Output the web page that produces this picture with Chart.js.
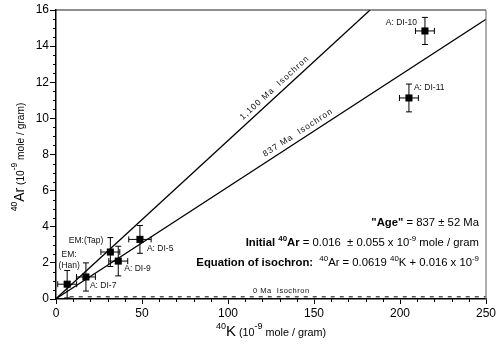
<!DOCTYPE html>
<html>
<head>
<meta charset="utf-8">
<script src="https://cdn.jsdelivr.net/npm/chart.js@4.4.0/dist/chart.umd.min.js"></script>
<style>
  html, body { margin: 0; padding: 0; background: #fff; }
  #wrap { width: 500px; height: 353px; }
</style>
</head>
<body>
<div id="wrap"><canvas id="isochron" width="500" height="353"></canvas></div>
<script>
// sample data (10^-9 mole / gram)
const sampleNames = ['EM:(Han)', 'A: DI-7', 'EM:(Tap)', 'A: DI-9', 'A: DI-5', 'A: DI-11', 'A: DI-10'];
const k40 = [6.5, 17.4, 31.6, 36.2, 48.8, 205.2, 214.5];
const k40Err = [5.5, 5.5, 5.5, 5.5, 6.5, 5.5, 5.5];
const ar40 = [0.82, 1.22, 2.6, 2.1, 3.3, 11.13, 14.84];
const ar40Err = [0.76, 0.78, 0.8, 0.82, 0.77, 0.77, 0.75];

// isochron end points
const iso837 = [{ x: 0, y: 0.016 }, { x: 250, y: 15.49 }];
const iso1100 = [{ x: 0, y: 0.016 }, { x: 182.6, y: 16 }];
const iso0 = [{ x: 8, y: 0.12 }, { x: 250, y: 0.12 }];

const xTicks = [0, 50, 100, 150, 200, 250];
const yTicks = [0, 2, 4, 6, 8, 10, 12, 14, 16];

const FONT = '"Liberation Sans", Arial, sans-serif';

// where each sample label sits relative to its point (px)
const labelPos = {
  'EM:(Han)': { lines: ['EM:', '(Han)'], dx: 2, dy: -30, align: 'center' },
  'A: DI-7': { lines: ['A: DI-7'], dx: 4, dy: 9, align: 'left' },
  'EM:(Tap)': { lines: ['EM:(Tap)'], dx: -7, dy: -11, align: 'right' },
  'A: DI-9': { lines: ['A: DI-9'], dx: 6, dy: 8, align: 'left' },
  'A: DI-5': { lines: ['A: DI-5'], dx: 7, dy: 9, align: 'left' },
  'A: DI-11': { lines: ['A: DI-11'], dx: 5, dy: -10, align: 'left' },
  'A: DI-10': { lines: ['A: DI-10'], dx: -8, dy: -8, align: 'right' }
};

function richText(ctx, segs, right, y, size) {
  let w = 0;
  segs.forEach(s => {
    ctx.font = (s.b ? 'bold ' : '') + (s.sup ? size * 0.7 : size) + 'px ' + FONT;
    s.w = ctx.measureText(s.t).width;
    w += s.w;
  });
  let x = right - w;
  ctx.textAlign = 'left';
  ctx.textBaseline = 'alphabetic';
  segs.forEach(s => {
    ctx.font = (s.b ? 'bold ' : '') + (s.sup ? size * 0.7 : size) + 'px ' + FONT;
    ctx.fillText(s.t, x, s.sup ? y - size * 0.42 : y);
    x += s.w;
  });
}

function lineLabel(chart, pts, atX, text, off) {
  const xs = chart.scales.x, ys = chart.scales.y;
  const x1 = xs.getPixelForValue(pts[0].x), y1 = ys.getPixelForValue(pts[0].y);
  const x2 = xs.getPixelForValue(pts[1].x), y2 = ys.getPixelForValue(pts[1].y);
  const ang = Math.atan2(y2 - y1, x2 - x1);
  const t = (atX - pts[0].x) / (pts[1].x - pts[0].x);
  const cx = x1 + (x2 - x1) * t, cy = y1 + (y2 - y1) * t;
  const ctx = chart.ctx;
  ctx.save();
  ctx.translate(cx, cy);
  ctx.rotate(ang);
  ctx.font = '8.5px ' + FONT;
  ctx.letterSpacing = '1px';
  ctx.fillStyle = '#111';
  ctx.textAlign = 'center';
  ctx.textBaseline = 'bottom';
  ctx.fillText(text, 0, -off);
  ctx.restore();
}

function drawTitle(ctx, segs, cx, y) {
  let w = 0;
  segs.forEach(s => {
    ctx.font = s.s + 'px ' + FONT;
    s.w = ctx.measureText(s.t).width;
    w += s.w;
  });
  let x = cx - w / 2;
  ctx.textAlign = 'left';
  ctx.textBaseline = 'alphabetic';
  segs.forEach(s => {
    ctx.font = s.s + 'px ' + FONT;
    ctx.fillText(s.t, x, s.sup ? y - 7 : y);
    x += s.w;
  });
}

const decorPlugin = {
  id: 'decor',
  beforeDatasetsDraw(chart) {
    const ctx = chart.ctx, xs = chart.scales.x, ys = chart.scales.y;
    ctx.save();
    ctx.strokeStyle = '#000';
    ctx.lineWidth = 1;
    for (let i = 0; i < k40.length; i++) {
      const px = xs.getPixelForValue(k40[i]), py = ys.getPixelForValue(ar40[i]);
      const xl = xs.getPixelForValue(k40[i] - k40Err[i]), xr = xs.getPixelForValue(k40[i] + k40Err[i]);
      const yt = ys.getPixelForValue(ar40[i] + ar40Err[i]), yb = ys.getPixelForValue(ar40[i] - ar40Err[i]);
      ctx.beginPath();
      ctx.moveTo(xl, py); ctx.lineTo(xr, py);
      ctx.moveTo(xl, py - 3); ctx.lineTo(xl, py + 3);
      ctx.moveTo(xr, py - 3); ctx.lineTo(xr, py + 3);
      ctx.moveTo(px, yt); ctx.lineTo(px, yb);
      ctx.moveTo(px - 3, yt); ctx.lineTo(px + 3, yt);
      ctx.moveTo(px - 3, yb); ctx.lineTo(px + 3, yb);
      ctx.stroke();
    }
    ctx.restore();
  },
  afterDraw(chart) {
    const ctx = chart.ctx, xs = chart.scales.x, ys = chart.scales.y;
    const a = chart.chartArea;
    ctx.save();
    // frame top / right
    ctx.strokeStyle = '#222';
    ctx.lineWidth = 1.2;
    ctx.beginPath();
    ctx.moveTo(a.left, a.top); ctx.lineTo(a.right, a.top);
    ctx.stroke();
    ctx.strokeStyle = '#777';
    ctx.beginPath();
    ctx.moveTo(a.right, a.top); ctx.lineTo(a.right, a.bottom);
    ctx.stroke();

    // minor ticks
    ctx.strokeStyle = '#000';
    ctx.lineWidth = 1;
    ctx.beginPath();
    for (let v = 0; v <= 16; v += 0.5) {
      if (v % 2 === 0) continue;
      const y = Math.round(ys.getPixelForValue(v)) + 0.5;
      ctx.moveTo(a.left - 3, y); ctx.lineTo(a.left, y);
    }
    for (let v = 0; v <= 250; v += 10) {
      if (v % 50 === 0) continue;
      const x = Math.round(xs.getPixelForValue(v)) + 0.5;
      ctx.moveTo(x, a.bottom); ctx.lineTo(x, a.bottom + 3);
    }
    ctx.stroke();

    // isochron labels
    lineLabel(chart, iso1100, 130, '1,100 Ma  Isochron', 3);
    lineLabel(chart, iso837, 143, '837 Ma  Isochron', 3);
    ctx.font = '7.5px ' + FONT;
    ctx.letterSpacing = '0.5px';
    ctx.fillStyle = '#111';
    ctx.textAlign = 'center';
    ctx.textBaseline = 'bottom';
    ctx.fillText('0 Ma  Isochron', xs.getPixelForValue(131), ys.getPixelForValue(iso0[0].y) - 2);
    ctx.letterSpacing = '0px';

    // sample labels
    ctx.font = '8.5px ' + FONT;
    ctx.textBaseline = 'middle';
    ctx.fillStyle = '#111';
    sampleNames.forEach((n, i) => {
      const p = labelPos[n];
      const px = xs.getPixelForValue(k40[i]), py = ys.getPixelForValue(ar40[i]);
      ctx.textAlign = p.align;
      p.lines.forEach((l, j) => ctx.fillText(l, px + p.dx, py + p.dy + j * 11));
    });

    // axis titles
    ctx.fillStyle = '#000';
    ctx.save();
    ctx.translate(19, 157);
    ctx.rotate(-Math.PI / 2);
    const yTitle = [{ t: '40', sup: true, s: 8.5 }, { t: 'Ar', s: 14 }, { t: ' (10', s: 10.2 }, { t: '-9', sup: true, s: 8.5 }, { t: ' mole / gram)', s: 10.2 }];
    drawTitle(ctx, yTitle, 0, 5);
    ctx.restore();
    const xTitle = [{ t: '40', sup: true, s: 9 }, { t: 'K', s: 15 }, { t: ' (10', s: 10.8 }, { t: '-9', sup: true, s: 9 }, { t: ' mole / gram)', s: 10.8 }];
    drawTitle(ctx, xTitle, (a.left + a.right) / 2, 336);

    // fit results
    ctx.fillStyle = '#000';
    const right = 479;
    richText(ctx, [{ t: '"Age"', b: true }, { t: ' = 837 ± 52 Ma' }], right, 226, 11.3);
    richText(ctx, [{ t: 'Initial ', b: true }, { t: '40', b: true, sup: true }, { t: 'Ar', b: true },
      { t: ' = 0.016  ± 0.055 x 10' }, { t: '-9', sup: true }, { t: ' mole / gram' }], right, 246, 11.3);
    richText(ctx, [{ t: 'Equation of isochron:  ', b: true }, { t: '40', sup: true }, { t: 'Ar = 0.0619 ' },
      { t: '40', sup: true }, { t: 'K + 0.016 x 10' }, { t: '-9', sup: true }], right, 266, 11.3);
    ctx.restore();
  }
};

new Chart(document.getElementById('isochron'), {
  type: 'scatter',
  data: {
    datasets: [
      {
        label: 'samples',
        data: k40.map((k, i) => ({ x: k, y: ar40[i] })),
        pointStyle: 'rect',
        pointRadius: 5,
        backgroundColor: '#000',
        borderColor: '#000',
        borderWidth: 0
      },
      {
        type: 'line', label: '837 Ma', data: iso837,
        borderColor: '#000', borderWidth: 1.3, pointRadius: 0
      },
      {
        type: 'line', label: '1100 Ma', data: iso1100,
        borderColor: '#000', borderWidth: 1.3, pointRadius: 0
      },
      {
        type: 'line', label: '0 Ma', data: iso0,
        borderColor: '#000', borderWidth: 1, borderDash: [4, 5], pointRadius: 0
      }
    ]
  },
  options: {
    responsive: false,
    animation: false,
    events: [],
    layout: { padding: { top: 10, right: 14, left: 0, bottom: 0 } },
    plugins: {
      legend: { display: false },
      tooltip: { enabled: false }
    },
    scales: {
      x: {
        type: 'linear',
        min: 0, max: 250,
        afterBuildTicks: s => { s.ticks = xTicks.map(v => ({ value: v })); },
        afterFit: s => { s.height = 54; },
        grid: { display: true, drawOnChartArea: false, tickLength: 5, color: '#000' },
        border: { display: true, color: '#000', width: 1.5 },
        ticks: { color: '#000', padding: 2, font: { family: FONT, size: 12 } }
      },
      y: {
        type: 'linear',
        min: 0, max: 16,
        afterBuildTicks: s => { s.ticks = yTicks.map(v => ({ value: v })); },
        afterFit: s => { s.width = 56; },
        grid: { display: true, drawOnChartArea: false, tickLength: 6, color: '#000' },
        border: { display: true, color: '#000', width: 1.5 },
        ticks: { color: '#000', padding: 1, font: { family: FONT, size: 12 } }
      }
    }
  },
  plugins: [decorPlugin]
});
</script>
</body>
</html>
